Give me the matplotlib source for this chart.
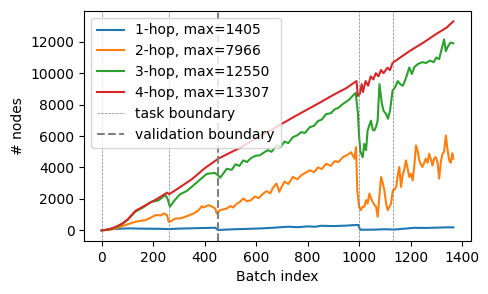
import numpy as np
import matplotlib
matplotlib.use('Agg')
import matplotlib.pyplot as plt

# values (smoothed node counts per batch)
hop1_x = [0, 20, 50, 80, 106, 150, 200, 230, 260, 300, 350, 400, 441, 452, 500, 560, 621, 650, 680, 724,
          760, 800, 830, 853, 900, 950, 982, 998, 1003, 1050, 1100, 1136, 1180, 1213, 1260, 1300, 1340, 1366]
hop1_y = [0, 40, 90, 110, 125, 110, 100, 95, 80, 110, 130, 150, 165, 20, 60, 90, 125, 150, 180, 230,
          200, 250, 230, 290, 270, 300, 335, 340, 40, 40, 70, 50, 110, 160, 150, 170, 190, 190]

hop2_x = [0, 20, 40, 73, 100, 131, 150, 170, 190, 209, 230, 241, 254, 260, 270, 286, 305, 325, 357, 375,
          389, 396, 415, 430, 441, 447, 460, 486, 500, 510, 525, 537, 550, 565, 580, 595, 610, 625, 640,
          655, 665, 679, 690, 700, 710, 725, 743, 760, 775, 790, 808, 825, 840, 855, 872, 890, 905, 920,
          937, 955, 969, 982, 988, 993, 1000, 1007, 1013, 1020, 1027, 1033, 1040,
          1047, 1053, 1060, 1066, 1072, 1078, 1085, 1092, 1098, 1105, 1111, 1118, 1124, 1131, 1138, 1144,
          1150, 1156, 1163, 1169, 1176, 1182, 1189, 1195, 1202, 1208, 1215, 1221, 1228, 1234, 1240, 1246,
          1253, 1259, 1266, 1272, 1279, 1285, 1292, 1298, 1305, 1311, 1318, 1324, 1330, 1337, 1343, 1350,
          1356, 1362, 1366]
hop2_y = [0, 20, 60, 230, 380, 545, 600, 650, 800, 970, 950, 1075, 970, 545, 600, 750, 760, 860, 1075, 1250,
          1540, 1455, 1600, 1500, 1390, 1075, 1285, 1390, 1550, 1450, 1700, 1810, 2025, 1850, 1920, 2150, 2050, 2300, 2500,
          2350, 2700, 2975, 2450, 2800, 3100, 2950, 3400, 3250, 3500, 3650, 3820, 3700, 4000, 3900, 4240, 4100, 4400, 4350,
          4660, 4800, 4970, 4560, 5300, 2550, 1500, 1285, 1500, 1500, 1920, 1700, 2340,
          2000, 1810, 1600, 1500, 860, 2000, 3390, 3000, 2550, 1700, 1285, 1500, 1710, 2550, 2600, 2760,
          3500, 4030, 2760, 3500, 3900, 4450, 3900, 3390, 3600, 3180, 4200, 5400, 5000, 4450, 4200, 4030,
          4300, 4560, 4300, 4870, 4500, 4130, 4600, 4660, 4300, 3290, 4400, 4870, 5000, 6030, 5200, 4450,
          4300, 4900, 4560]

hop3_x = [0, 20, 40, 60, 80, 100, 130, 160, 190, 220, 248, 256, 265, 285, 305, 330, 357, 380, 409, 440,
          452, 460, 486, 505, 520, 535, 550, 565, 580, 598, 614, 630, 645, 660, 679, 695, 710, 725, 743,
          760, 775, 790, 808, 825, 840, 855, 872, 890, 905, 920, 937, 960, 975,
          987, 995, 1000, 1005, 1014, 1020, 1027, 1033, 1040, 1046, 1053, 1059, 1066, 1072, 1079, 1088,
          1095, 1105, 1112, 1120, 1130, 1140, 1150, 1160, 1170, 1180, 1195, 1205, 1215, 1230, 1245, 1260,
          1275, 1290, 1300, 1311, 1320, 1330, 1337, 1345, 1355, 1366]
hop3_y = [0, 30, 110, 230, 400, 650, 1180, 1450, 1800, 1900, 2250, 2000, 1500, 1950, 2300, 2500, 2870, 3200, 3600, 3650,
          3500, 3350, 3920, 3850, 4200, 4100, 4450, 4350, 4600, 4750, 4770, 4950, 5100, 5000, 5400, 5300, 5650, 5550, 5930,
          6050, 6250, 6200, 6560, 6650, 6950, 7050, 7400, 7450, 7700, 7800, 8040, 8300, 8560,
          8750, 7500, 6000, 5000, 4650, 5500, 5100, 6350, 6700, 6980, 6400, 6350, 6600, 6980, 9300, 8100,
          7600, 7400, 7100, 7600, 8900, 9100, 9500, 9300, 9200, 9600, 10360, 9950, 10400, 10600, 10700, 10650,
          10800, 10700, 11000, 10900, 11500, 12150, 11400, 11700, 11950, 11900]

hop4_x = [0, 20, 40, 60, 80, 100, 131, 160, 183, 220, 254, 262, 270, 300, 350, 400, 453, 500, 537, 600,
          650, 700, 750, 800, 850, 900, 950, 990, 995, 1003, 1010, 1015, 1025, 1035, 1045, 1055, 1065, 1075,
          1085, 1095, 1110, 1120, 1130, 1160, 1200, 1250, 1300, 1340, 1366]
hop4_y = [0, 40, 130, 260, 440, 680, 1240, 1500, 1710, 2050, 2400, 2300, 2380, 2700, 3250, 3950, 4560, 4950, 5250, 5850,
          6300, 6780, 7250, 7700, 8150, 8620, 9050, 9500, 8550, 8700, 9300, 8800, 9500, 9200, 9800, 9600, 10000, 9800,
          10200, 10000, 10350, 10200, 10650, 11000, 11450, 11950, 12500, 12900, 13300]

max_vals = [1405, 7966, 12550, 13307]
task_bounds = [0, 260, 1000, 1131]
val_bound = 452

fig = plt.figure(figsize=(4.89, 2.94), dpi=100)
ax = fig.add_axes([0.172, 0.181, 0.791, 0.782])

series = [(hop1_x, hop1_y), (hop2_x, hop2_y), (hop3_x, hop3_y), (hop4_x, hop4_y)]
for i, (xs, ys) in enumerate(series):
    ax.plot(xs, ys, label=f'{i + 1}-hop, max={max_vals[i]}')

for j, b in enumerate(task_bounds):
    ax.axvline(b, color='gray', linestyle='--', linewidth=0.5,
               label='task boundary' if j == 0 else None)
ax.axvline(val_bound, color='gray', linestyle='--', linewidth=1.5, label='validation boundary')

ax.set_xlabel('Batch index')
ax.set_ylabel('# nodes')
ax.legend(loc='upper left')

fig.savefig('out.png', dpi=100)
